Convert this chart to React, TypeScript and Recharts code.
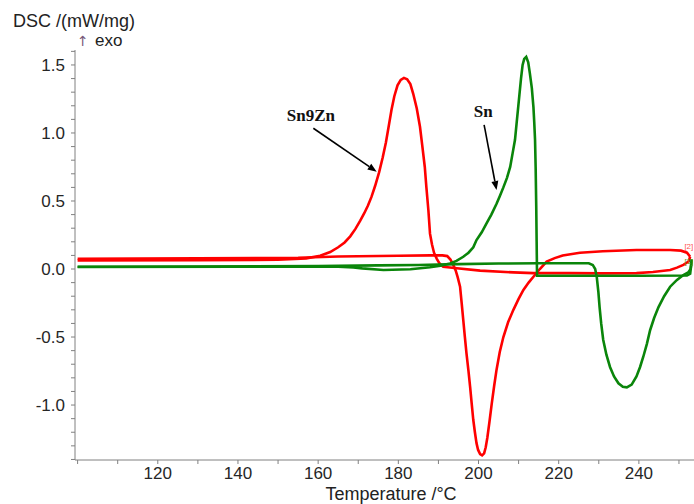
import React from 'react';
import { LineChart, Line, XAxis, YAxis, ReferenceLine, ReferenceDot } from 'recharts';

// ---- Sn9Zn (red) heating curve ----
const sn9znHeatT = [100, 130, 155, 165, 180, 188, 191, 192.2, 193, 193.7, 194.3, 194.8, 195.4, 195.8, 196.2, 196.6, 197, 197.5, 197.9, 198.3, 198.7, 199.1, 199.5, 199.9, 200.4, 200.9, 201.4, 201.8, 202.2, 202.7, 203.3, 203.9, 204.5, 205.3, 206.2, 207.4, 208.7, 210, 211.2, 212.5, 213.7, 215.3, 217, 219, 221, 225.3, 231, 239.4, 247.8, 250.5, 252, 252.8];
const sn9znHeatV = [0.075, 0.078, 0.083, 0.092, 0.097, 0.1, 0.1, 0.095, 0.07, 0.03, -0.01, -0.06, -0.13, -0.25, -0.375, -0.5, -0.62, -0.75, -0.865, -0.99, -1.11, -1.2, -1.28, -1.33, -1.36, -1.37, -1.355, -1.31, -1.24, -1.13, -0.99, -0.86, -0.74, -0.61, -0.5, -0.39, -0.3, -0.22, -0.154, -0.1, -0.057, 0.0, 0.054, 0.08, 0.1, 0.12, 0.13, 0.14, 0.14, 0.135, 0.12, 0.09];

// ---- Sn9Zn (red) cooling curve ----
const sn9znCoolT = [252.8, 252.4, 251.1, 249.5, 247.8, 243.5, 239.4, 231, 222.8, 213.7, 208.7, 200.4, 194.6, 191.2, 190.3, 189.6, 188.9, 188.4, 187.9, 187.5, 187.0, 186.6, 186.0, 185.4, 184.6, 183.7, 183.0, 182.2, 181.4, 180.6, 179.8, 179.0, 178.3, 177.6, 176.9, 176.1, 175.2, 174.2, 173.3, 172.4, 171.5, 170.5, 169.3, 168, 166.6, 165, 163, 160.5, 157, 150, 130, 100];
const sn9znCoolV = [0.09, 0.055, 0.03, 0.01, -0.007, -0.022, -0.03, -0.032, -0.03, -0.03, -0.025, -0.012, 0.005, 0.017, 0.04, 0.075, 0.12, 0.18, 0.26, 0.43, 0.6, 0.75, 0.9, 1.046, 1.18, 1.29, 1.36, 1.395, 1.405, 1.39, 1.35, 1.27, 1.17, 1.05, 0.93, 0.82, 0.71, 0.61, 0.53, 0.465, 0.41, 0.355, 0.295, 0.24, 0.195, 0.16, 0.125, 0.097, 0.078, 0.068, 0.065, 0.063];

// ---- Sn (green) heating curve ----
const snHeatT = [100, 130, 160, 175, 185, 195, 205, 215, 227.5, 228.5, 229.1, 229.5, 229.9, 230.2, 230.6, 231.1, 231.9, 232.8, 233.8, 234.9, 236, 237, 238.2, 239.4, 240.3, 241.1, 242, 242.8, 243.8, 244.9, 246.3, 247.8, 249.5, 251.1, 252.3, 252.9, 253.2];
const snHeatV = [0.017, 0.018, 0.022, 0.027, 0.03, 0.036, 0.04, 0.042, 0.042, 0.03, 0.0, -0.06, -0.17, -0.28, -0.4, -0.52, -0.63, -0.72, -0.79, -0.84, -0.865, -0.87, -0.85, -0.79, -0.72, -0.645, -0.55, -0.45, -0.36, -0.28, -0.2, -0.13, -0.08, -0.044, -0.025, 0.0, 0.07];

// ---- Sn (green) cooling curve ----
const snCoolT = [253.2, 252.8, 252, 240, 225, 214.6, 214.5, 214.4, 214.25, 214.1, 213.9, 213.7, 213.3, 212.8, 212.4, 211.9, 211.4, 211.0, 210.6, 210.2, 209.9, 209.5, 209.1, 208.5, 207.9, 207.1, 206.2, 205.3, 204.5, 203.2, 202, 200.8, 199.5, 198.7, 197.5, 196.2, 194.5, 192.9, 190.5, 187.9, 183, 176.3, 171, 168.8, 165, 140, 100];
const snCoolV = [0.07, -0.035, -0.048, -0.05, -0.05, -0.05, 0.2, 0.46, 0.75, 0.95, 1.08, 1.19, 1.33, 1.44, 1.52, 1.56, 1.545, 1.5, 1.4, 1.28, 1.19, 1.07, 0.95, 0.85, 0.75, 0.67, 0.6, 0.535, 0.48, 0.4, 0.335, 0.27, 0.213, 0.16, 0.12, 0.09, 0.06, 0.04, 0.025, 0.013, -0.002, -0.007, 0.005, 0.012, 0.017, 0.017, 0.015];

// ---- axes ----
const xTicks = [100, 110, 120, 130, 140, 150, 160, 170, 180, 190, 200, 210, 220, 230, 240, 250];
const xTickLabels = [120, 140, 160, 180, 200, 220, 240];
const yTicks = [-1.4, -1.3, -1.2, -1.1, -1.0, -0.9, -0.8, -0.7, -0.6, -0.5, -0.4, -0.3, -0.2, -0.1, 0.0, 0.1, 0.2, 0.3, 0.4, 0.5, 0.6, 0.7, 0.8, 0.9, 1.0, 1.1, 1.2, 1.3, 1.4, 1.5, 1.6];
const yTickLabels = [-1.0, -0.5, 0.0, 0.5, 1.0, 1.5];
const xDomain = [99.35, 253.75];
const yDomain = [-1.404, 1.61];

// ---- annotations ----
const annotations = [
  { name: 'Sn9Zn', tx: 158.2, ty: 1.085, from: [158.8, 1.035], to: [174.6, 0.715] },
  { name: 'Sn', tx: 201.2, ty: 1.12, from: [201.4, 1.06], to: [204.5, 0.58] },
];
const curveTags = [
  { text: '[2]', t: 253.7, v: 0.145, color: '#ff5050' },
  { text: '[1]', t: 253.7, v: 0.035, color: '#6a9a20' },
];

const zip = (ts: number[], vs: number[]) => ts.map((t, i) => ({ t, v: vs[i] }));
const redHeat = zip(sn9znHeatT, sn9znHeatV);
const redCool = zip(sn9znCoolT, sn9znCoolV);
const greenHeat = zip(snHeatT, snHeatV);
const greenCool = zip(snCoolT, snCoolV);

const FONT = '"Liberation Sans", Arial, sans-serif';
const RED = '#ff0000';
const GREEN = '#0a850a';
const AXIS = '#808080';

const XTick = (props: any) => {
  const { x, y, payload } = props;
  if (!xTickLabels.some((l) => Math.abs(l - payload.value) < 1e-6)) return <g />;
  return (
    <text x={x} y={y} dy="0.72em" textAnchor="middle" fontFamily={FONT} fontSize={17} fill="#262626">
      {String(payload.value)}
    </text>
  );
};

const YTick = (props: any) => {
  const { x, y, payload } = props;
  if (!yTickLabels.some((l) => Math.abs(l - payload.value) < 1e-6)) return <g />;
  return (
    <text x={x} y={y} dy="0.36em" textAnchor="end" fontFamily={FONT} fontSize={17} fill="#262626">
      {Number(payload.value).toFixed(1)}
    </text>
  );
};

const Arrow = (props: any) => {
  const { x1, y1, x2, y2 } = props;
  if (![x1, y1, x2, y2].every((n) => typeof n === 'number')) return <g />;
  const ang = Math.atan2(y2 - y1, x2 - x1);
  const len = 9;
  const w = 3.5;
  const bx = x2 - len * Math.cos(ang);
  const by = y2 - len * Math.sin(ang);
  const px = -Math.sin(ang) * w;
  const py = Math.cos(ang) * w;
  return (
    <g>
      <line x1={x1} y1={y1} x2={bx} y2={by} stroke="#000" strokeWidth={1.6} />
      <polygon points={`${x2},${y2} ${bx + px},${by + py} ${bx - px},${by - py}`} fill="#000" />
    </g>
  );
};

export default function App() {
  return (
    <div style={{ position: 'absolute', left: 0, top: 0, width: 694, height: 504, background: '#fff' }}>
      <LineChart width={694} height={504} margin={{ top: 50, right: 0, bottom: 0, left: 0 }}>
        <XAxis
          type="number"
          dataKey="t"
          domain={xDomain}
          ticks={xTicks}
          interval={0}
          allowDataOverflow
          height={44}
          tickSize={4}
          tickMargin={3}
          stroke={AXIS}
          tick={<XTick />}
        />
        <YAxis
          type="number"
          dataKey="v"
          domain={yDomain}
          ticks={yTicks}
          interval={0}
          allowDataOverflow
          width={75}
          tickSize={4}
          tickMargin={6}
          stroke={AXIS}
          tick={<YTick />}
        />
        <Line data={redCool} dataKey="v" type="linear" stroke={RED} strokeWidth={2.6} dot={false} isAnimationActive={false} />
        <Line data={redHeat} dataKey="v" type="linear" stroke={RED} strokeWidth={2.6} dot={false} isAnimationActive={false} />
        <Line data={greenHeat} dataKey="v" type="linear" stroke={GREEN} strokeWidth={2.6} dot={false} isAnimationActive={false} />
        <Line data={greenCool} dataKey="v" type="linear" stroke={GREEN} strokeWidth={2.6} dot={false} isAnimationActive={false} />
        {annotations.map((a) => (
          <ReferenceLine
            key={a.name + 'arrow'}
            segment={[{ x: a.from[0], y: a.from[1] }, { x: a.to[0], y: a.to[1] }]}
            ifOverflow="visible"
            shape={(p: any) => <Arrow {...p} />}
          />
        ))}
        {annotations.map((a) => (
          <ReferenceDot
            key={a.name}
            x={a.tx}
            y={a.ty}
            r={0}
            ifOverflow="visible"
            shape={(p: any) => (
              <text x={p.cx} y={p.cy} textAnchor="middle" fontFamily='"Liberation Serif", "Times New Roman", serif' fontWeight="bold" fontSize={17} fill="#111">
                {a.name}
              </text>
            )}
          />
        ))}
        {curveTags.map((c) => (
          <ReferenceDot
            key={c.text}
            x={c.t}
            y={c.v}
            r={0}
            ifOverflow="visible"
            shape={(p: any) => (
              <text x={p.cx - 0.5} y={p.cy} textAnchor="end" fontFamily={FONT} fontSize={8} fill={c.color}>
                {c.text}
              </text>
            )}
          />
        ))}
      </LineChart>
      <svg width={694} height={504} style={{ position: 'absolute', left: 0, top: 0, pointerEvents: 'none' }}>
        <text x={13} y={27} fontFamily={FONT} fontSize={18} fill="#222">DSC /(mW/mg)</text>
        <text x={77} y={46} fontFamily='"DejaVu Sans", sans-serif' fontSize={14} fill="#7a5a7a">↑</text>
        <text x={95} y={46} fontFamily={FONT} fontSize={17} fill="#222">exo</text>
        <text x={391} y={500} textAnchor="middle" fontFamily={FONT} fontSize={18} fill="#222">Temperature /°C</text>
      </svg>
    </div>
  );
}
